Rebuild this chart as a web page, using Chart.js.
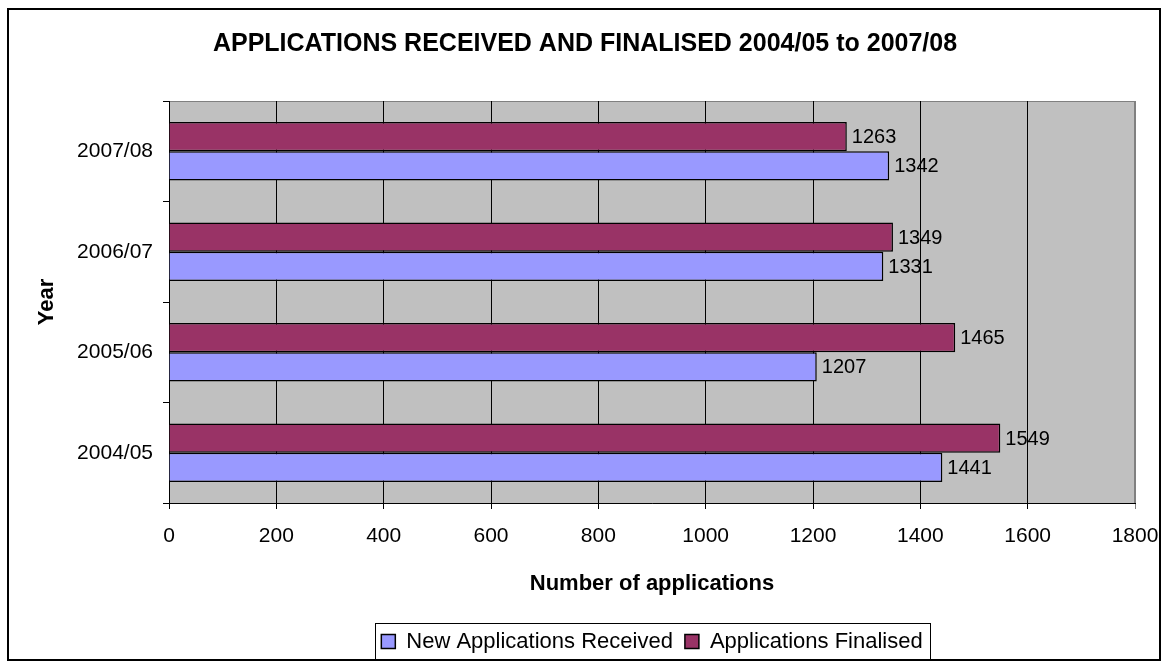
<!DOCTYPE html>
<html>
<head>
<meta charset="utf-8">
<script src="https://cdn.jsdelivr.net/npm/chart.js@4.4.1/dist/chart.umd.min.js"></script>
<style>
  body { margin: 0; background: #fff; }
</style>
</head>
<body>
<canvas id="appChart" width="1170" height="668"></canvas>
<script>
const years = ['2007/08', '2006/07', '2005/06', '2004/05'];
const finalised = [1263, 1349, 1465, 1549];
const received = [1342, 1331, 1207, 1441];
const xTicks = [0, 200, 400, 600, 800, 1000, 1200, 1400, 1600, 1800];

const FONT = "'Liberation Sans', Arial, sans-serif";

// grey plot area, outer frame, legend frame
const framePlugin = {
  id: 'frame',
  beforeDraw(chart) {
    const { ctx, chartArea: a } = chart;
    ctx.save();
    ctx.fillStyle = '#C0C0C0';
    ctx.fillRect(a.left, a.top, a.right - a.left, a.bottom - a.top);
    ctx.strokeStyle = '#808080';
    ctx.lineWidth = 1;
    ctx.strokeRect(a.left + 0.5, a.top + 0.5, a.right - a.left - 1, a.bottom - a.top);
    ctx.strokeStyle = '#000';
    ctx.lineWidth = 2;
    ctx.strokeRect(8, 9, 1152, 651);
    ctx.restore();
  },
  afterDraw(chart) {
    const { ctx } = chart;
    const boxes = chart.legend.legendHitBoxes;
    if (!boxes || !boxes.length) return;
    const l = Math.min(...boxes.map(b => b.left)) - 6;
    const r = Math.max(...boxes.map(b => b.left + b.width)) + 8;
    ctx.save();
    ctx.strokeStyle = '#000';
    ctx.lineWidth = 1;
    ctx.strokeRect(Math.round(l) + 0.5, 623.5, Math.round(r - l), 36);
    ctx.restore();
  }
};

// value labels at the end of each bar
const valueLabels = {
  id: 'valueLabels',
  afterDatasetsDraw(chart) {
    const { ctx } = chart;
    ctx.save();
    ctx.font = '20px ' + FONT;
    ctx.fillStyle = '#000';
    ctx.textBaseline = 'middle';
    ctx.textAlign = 'left';
    chart.data.datasets.forEach((ds, i) => {
      chart.getDatasetMeta(i).data.forEach((bar, j) => {
        ctx.fillText(ds.data[j], bar.x + 5, bar.y + 1);
      });
    });
    ctx.restore();
  }
};

new Chart(document.getElementById('appChart'), {
  type: 'bar',
  data: {
    labels: years,
    datasets: [
      {
        label: 'Applications Finalised',
        data: finalised,
        backgroundColor: '#993366',
        borderColor: '#000',
        borderWidth: 1.5
      },
      {
        label: 'New Applications Received',
        data: received,
        backgroundColor: '#9999FF',
        borderColor: '#000',
        borderWidth: 1.5
      }
    ]
  },
  options: {
    indexAxis: 'y',
    responsive: false,
    animation: false,
    devicePixelRatio: 1,
    categoryPercentage: 0.58,
    barPercentage: 1.0,
    layout: { padding: { top: 0, left: 0, right: 0, bottom: 5.5 } },
    plugins: {
      title: {
        display: true,
        text: 'APPLICATIONS RECEIVED AND FINALISED 2004/05 to 2007/08',
        color: '#000',
        font: { family: FONT, size: 25, weight: 'bold' },
        padding: { top: 29.5, bottom: 41.5 }
      },
      legend: {
        position: 'bottom',
        fullSize: false,
        reverse: true,
        labels: {
          color: '#000',
          font: { family: FONT, size: 22 },
          boxWidth: 14,
          boxHeight: 14,
          padding: 12
        }
      },
      tooltip: { enabled: false }
    },
    scales: {
      x: {
        min: 0,
        max: 1800,
        afterBuildTicks(scale) {
          scale.ticks = xTicks.map(v => ({ value: v }));
        },
        afterFit(scale) {
          scale.height = 115.5;
          scale.paddingRight = 35;
        },
        grid: {
          color: ctx => (ctx.tick && ctx.tick.value === 1800 ? '#808080' : '#000'),
          tickColor: ctx => (ctx.tick && ctx.tick.value === 1800 ? '#808080' : '#000'),
          tickLength: 6,
          lineWidth: 1
        },
        border: { color: '#000', width: 1 },
        ticks: {
          color: '#000',
          font: { family: FONT, size: 21 },
          padding: 15,
          maxRotation: 0,
          callback: value => String(value)
        },
        title: {
          display: true,
          text: 'Number of applications',
          color: '#000',
          font: { family: FONT, size: 22, weight: 'bold' },
          padding: { top: 0, bottom: 21.5 }
        }
      },
      y: {
        afterFit(scale) { scale.width = 169; },
        grid: {
          drawOnChartArea: false,
          tickLength: 6,
          tickColor: '#000'
        },
        border: { color: '#000', width: 1 },
        ticks: {
          color: '#000',
          font: { family: FONT, size: 21 },
          padding: 10
        },
        title: {
          display: true,
          text: 'Year',
          color: '#000',
          font: { family: FONT, size: 22, weight: 'bold' },
          padding: { top: 34, bottom: 0 }
        }
      }
    }
  },
  plugins: [framePlugin, valueLabels]
});
</script>
</body>
</html>
